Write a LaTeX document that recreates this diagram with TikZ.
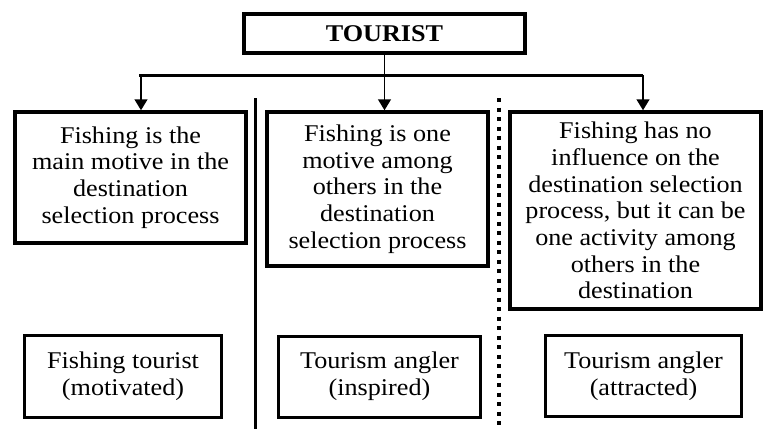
\documentclass[tikz,border=0pt]{standalone}
\usepackage{fontspec}
\setmainfont[FakeStretch=1.09]{Liberation Serif}
\usetikzlibrary{arrows.meta}
\tikzset{
  box/.style={draw=black, line width=3.5pt, fill=white, align=center, inner sep=0pt,
    font=\fontsize{24}{26.7}\selectfont},
  topbox/.style={box, line width=4.5pt, font=\fontsize{24}{26.7}\selectfont\bfseries},
  lowbox/.style={box, line width=3pt},
  arr/.style={line width=1.5pt, -{Triangle[width=13pt,length=11pt]}},
  plain/.style={line width=1.5pt},
  hline/.style={line width=3pt},
  soliddiv/.style={line width=3pt},
  dotdiv/.style={line width=4pt, dash pattern=on 4pt off 5.5pt}
}
\begin{document}
\begin{tikzpicture}[x=1pt,y=-1pt]
\useasboundingbox (0,0) rectangle (765,429);
% top
\node[topbox, minimum width=281pt, minimum height=39pt] (t) at (384.5,33.5) {TOURIST};
% junction coordinates
\coordinate (j1) at (141,75);
\coordinate (j3) at (643,75);
\coordinate (hl) at (139,75);
% first-level boxes
\node[box, minimum width=231pt, minimum height=131pt] (b1) at (130.5,177.5)
  {Fishing is the\\main motive in the\\destination\\selection process};
\node[box, minimum width=221pt, minimum height=154pt] (b2) at (377.5,189)
  {Fishing is one\\motive among\\others in the\\destination\\selection process};
\node[box, minimum width=251pt, minimum height=197pt] (b3) at (635.5,210.5)
  {Fishing has no\\influence on the\\destination selection\\process, but it can be\\one activity among\\others in the\\destination};
% bottom boxes
\node[lowbox, minimum width=197pt, minimum height=82pt] (c1) at (123,376.5)
  {Fishing tourist\\(motivated)};
\node[lowbox, minimum width=202pt, minimum height=81pt] (c2) at (379.5,376.5)
  {Tourism angler\\(inspired)};
\node[lowbox, minimum width=196pt, minimum height=81pt] (c3) at (643.5,376)
  {Tourism angler\\(attracted)};
% connectors
\draw[hline] (hl) -- (j3);
\draw[arr] (t.south) -- (t.south |- b2.north);
\draw[arr] (j1) -- (j1 |- b1.north);
\draw[arr] (j3) -- (j3 |- b3.north);
% dividers
\coordinate (s1) at (255,98);
\coordinate (s2) at (255,429);
\coordinate (d1) at (499,98);
\coordinate (d2) at (499,429);
\draw[soliddiv] (s1) -- (s2);
\draw[dotdiv] (d1) -- (d2);
\end{tikzpicture}
\end{document}
